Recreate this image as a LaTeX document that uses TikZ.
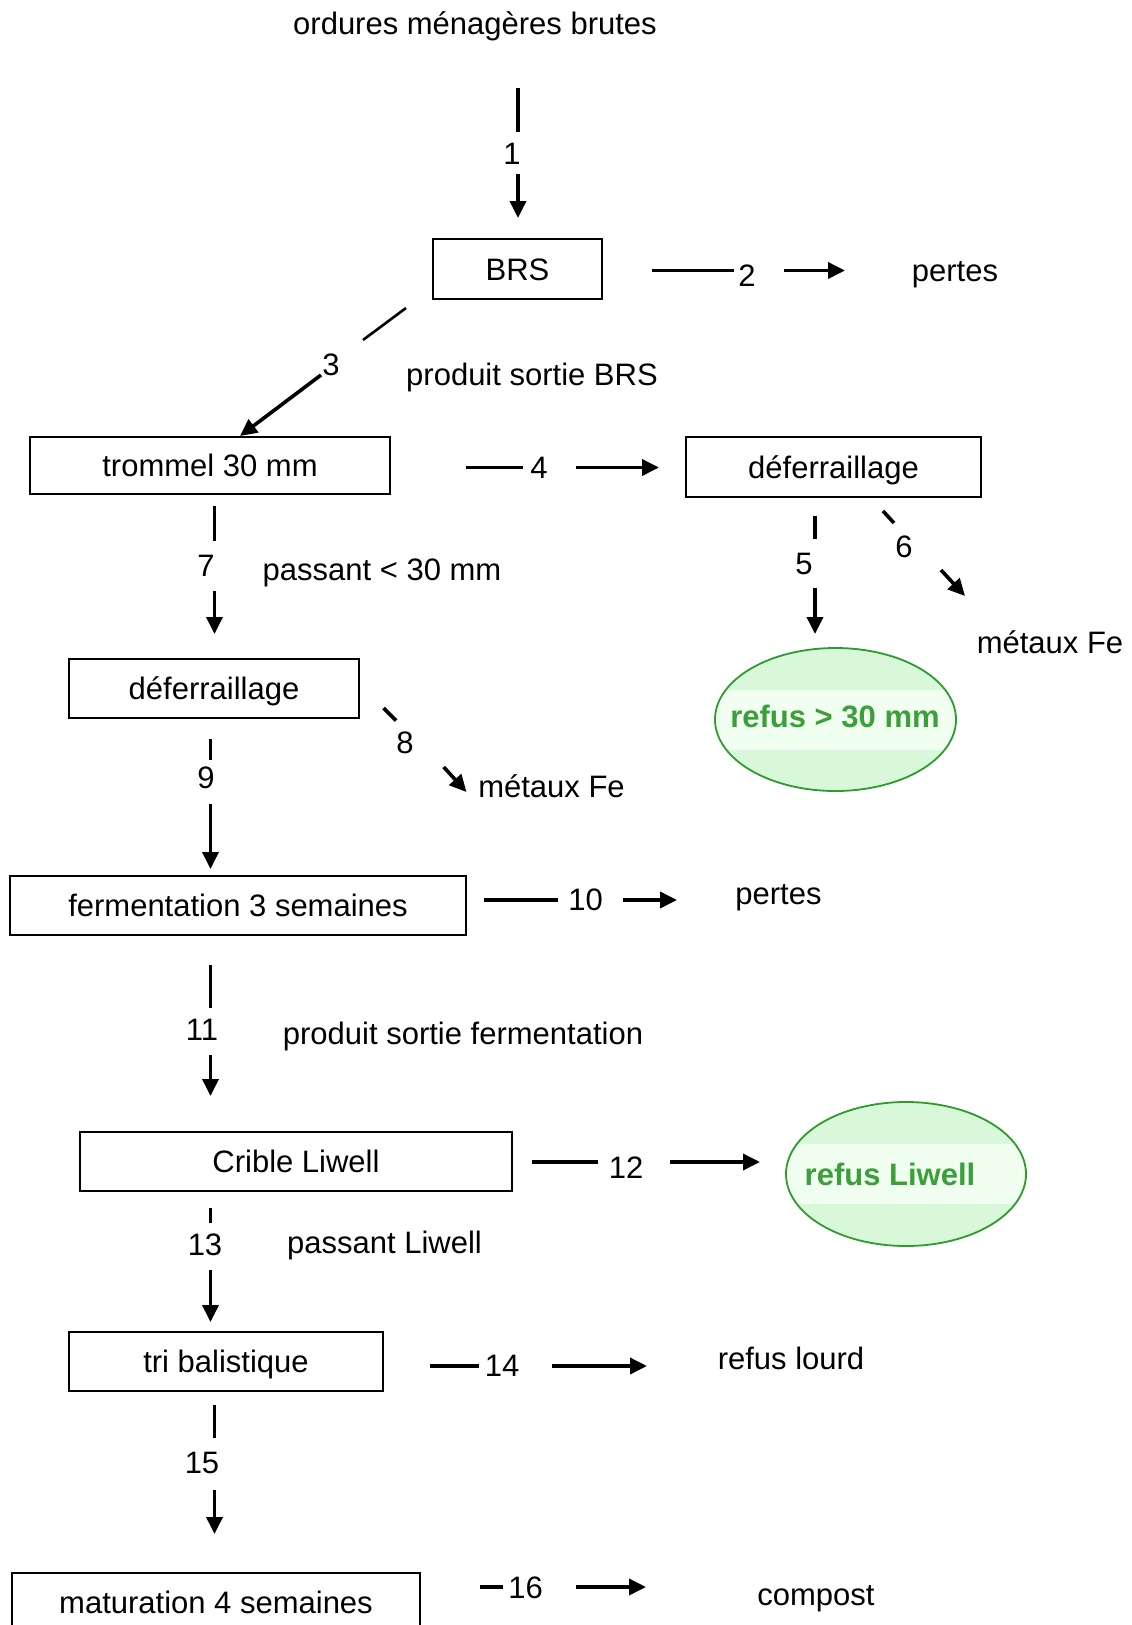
\documentclass[tikz,border=0pt]{standalone}
\usepackage{fontspec}
\setmainfont{Liberation Sans}
\usetikzlibrary{arrows.meta,shapes.geometric}
\definecolor{egreen}{HTML}{2E9B2E}
\definecolor{efill}{HTML}{D9F8D9}
\definecolor{eband}{HTML}{F0FFF0}
\definecolor{etext}{HTML}{3C9F3C}
\begin{document}
\begin{tikzpicture}[x=1pt,y=-1pt,
  font=\fontsize{31}{36}\selectfont,
  box/.style={draw, line width=1.8pt, inner sep=0pt, text height=26pt, text depth=4pt},
  lbl/.style={inner sep=0pt, text height=26pt, text depth=4pt},
  num/.style={inner sep=0pt, text height=22pt, text depth=0pt},
  seg/.style={line width=3.6pt},
  arr/.style={line width=3.6pt, -{Triangle[length=17pt,width=16pt]}},
  oval/.style={ellipse, draw=egreen, line width=1.8pt, fill=efill, inner sep=0pt,
    path picture={\fill[eband] ([yshift=-30pt]path picture bounding box.west) rectangle ([yshift=30pt]path picture bounding box.east);}},
  otext/.style={inner sep=0pt, text=etext, font=\fontsize{31}{36}\selectfont\bfseries, text height=26pt, text depth=4pt}]
\useasboundingbox (0,0) rectangle (1132,1625);
\clip (0,0) rectangle (1132,1625);
% nodes
\node[lbl] (top) at (475,23) {ordures ménagères brutes};
\node[box, minimum width=169, minimum height=60] (brs) at (517.5,269) {BRS};
\node[lbl] (pertes1) at (955,270) {pertes};
\node[lbl] (psbrs) at (532,374) {produit sortie BRS};
\node[box, minimum width=360, minimum height=57] (trommel) at (210,465.5) {trommel 30 mm};
\node[box, minimum width=295, minimum height=60] (defer1) at (833.5,467) {déferraillage};
\node[lbl] (fe1) at (1050,642) {métaux Fe};
\node[oval, minimum width=241, minimum height=143] (refus30) at (835.5,719.5) {};
\node[otext] (refus30t) at (835,716) {refus > 30 mm};
\node[lbl] (pass30) at (382,569) {passant < 30 mm};
\node[box, minimum width=290, minimum height=59] (defer2) at (214,688.5) {déferraillage};
\node[lbl] (fe2) at (551.5,786) {métaux Fe};
\node[box, minimum width=456, minimum height=59] (ferm) at (238,905.5) {fermentation 3 semaines};
\node[lbl] (pertes2) at (778.5,893.5) {pertes};
\node[lbl] (psferm) at (463,1033.5) {produit sortie fermentation};
\node[box, minimum width=432, minimum height=59] (crible) at (296,1161.5) {Crible Liwell};
\node[oval, minimum width=240, minimum height=144] (refusL) at (906,1174) {};
\node[otext] (refusLt) at (890,1174.5) {refus Liwell};
\node[lbl] (passL) at (384.5,1242) {passant Liwell};
\node[box, minimum width=313.5, minimum height=59] (tri) at (226,1361.5) {tri balistique};
\node[lbl] (lourd) at (791,1358) {refus lourd};
\node[box, minimum width=408, minimum height=59] (matur) at (216,1602.5) {maturation 4 semaines};
\node[lbl] (compost) at (816,1594) {compost};
% number labels
\node[num] (l1) at (512,153) {1};
\node[num] (l2) at (747,275) {2};
\node[num] (l3) at (331,364) {3};
\node[num] (l4) at (539,467) {4};
\node[num] (l5) at (804,563) {5};
\node[num] (l6) at (904,546) {6};
\node[num] (l7) at (206,565) {7};
\node[num] (l8) at (405,742) {8};
\node[num] (l9) at (206,777.5) {9};
\node[num] (l10) at (585.7,899) {10};
\node[num] (l11) at (202,1029) {11};
\node[num] (l12) at (626,1167) {12};
\node[num] (l13) at (205,1244) {13};
\node[num] (l14) at (502,1365) {14};
\node[num] (l15) at (202,1462) {15};
\node[num] (l16) at (525.5,1587) {16};
% connector coordinates
\coordinate (c1a) at (518,88);   \coordinate (c1b) at (518,132);  \coordinate (c1c) at (518,174);  \coordinate (c1d) at (518,218);
\coordinate (c2a) at (652,270.5); \coordinate (c2b) at (734,270.5); \coordinate (c2c) at (784,270.5); \coordinate (c2d) at (845,270.5);
\coordinate (c3a) at (406,308);  \coordinate (c3b) at (363,340);  \coordinate (c3c) at (321,375);  \coordinate (c3d) at (240,436);
\coordinate (c4a) at (466,467.5); \coordinate (c4b) at (523,467.5); \coordinate (c4c) at (576,467.5); \coordinate (c4d) at (659,467.5);
\coordinate (c5a) at (815,516);  \coordinate (c5b) at (815,539);  \coordinate (c5c) at (815,588);  \coordinate (c5d) at (815,634);
\coordinate (c6a) at (883,511);  \coordinate (c6b) at (894,523);  \coordinate (c6c) at (941,570);  \coordinate (c6d) at (965,596);
\coordinate (c7a) at (214.5,506); \coordinate (c7b) at (214.5,541); \coordinate (c7c) at (214.5,591); \coordinate (c7d) at (214.5,634);
\coordinate (c8a) at (383.5,708); \coordinate (c8b) at (396,720.5); \coordinate (c8c) at (443.7,767); \coordinate (c8d) at (466.5,792);
\coordinate (c9a) at (210.5,739); \coordinate (c9b) at (210.5,760); \coordinate (c9c) at (210.5,804); \coordinate (c9d) at (210.5,869);
\coordinate (c10a) at (484,900); \coordinate (c10b) at (558,900); \coordinate (c10c) at (623,900); \coordinate (c10d) at (677,900);
\coordinate (c11a) at (210.5,965); \coordinate (c11b) at (210.5,1008); \coordinate (c11c) at (210.5,1055); \coordinate (c11d) at (210.5,1096);
\coordinate (c12a) at (532,1162); \coordinate (c12b) at (598,1162); \coordinate (c12c) at (670,1162); \coordinate (c12d) at (760,1162);
\coordinate (c13a) at (210.5,1208); \coordinate (c13b) at (210.5,1223); \coordinate (c13c) at (210.5,1270); \coordinate (c13d) at (210.5,1322);
\coordinate (c14a) at (430,1366); \coordinate (c14b) at (479,1366); \coordinate (c14c) at (551.5,1366); \coordinate (c14d) at (647,1366);
\coordinate (c15a) at (214.5,1405); \coordinate (c15b) at (214.5,1438); \coordinate (c15c) at (214.5,1490); \coordinate (c15d) at (214.5,1534);
\coordinate (c16a) at (480,1587); \coordinate (c16b) at (503,1587); \coordinate (c16c) at (576,1587); \coordinate (c16d) at (646,1587);
% connectors
\foreach \i in {1,2,4,5,6,7,8,9,10,11,12,13,14,15,16}{
  \draw[seg] (c\i a) -- (c\i b);
}
\draw[seg, line width=2.6pt] (c3a) -- (c3b);
\foreach \i in {1,...,16}{
  \draw[arr] (c\i c) -- (c\i d);
}
\end{tikzpicture}
\end{document}
